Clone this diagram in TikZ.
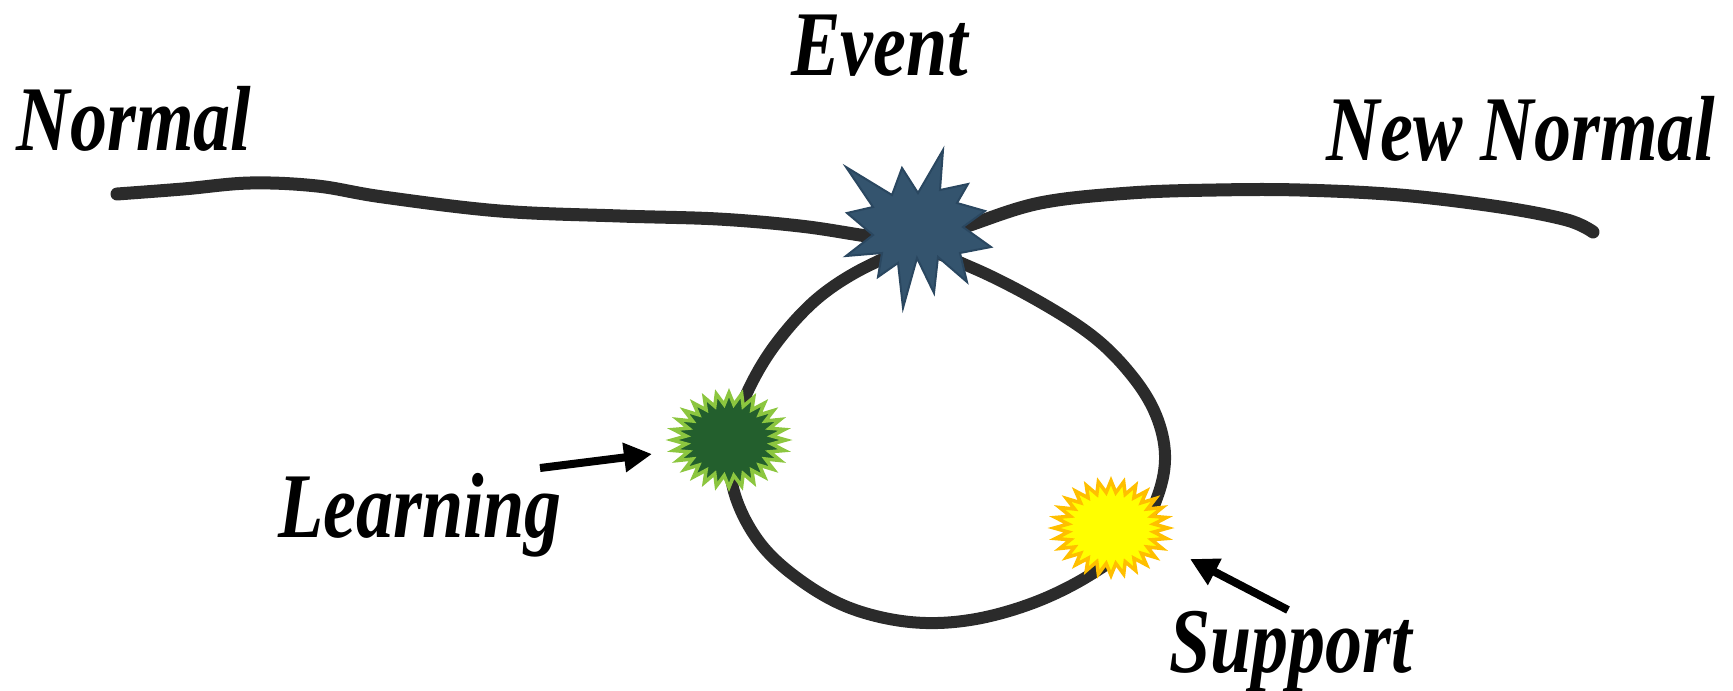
\documentclass[tikz,border=0pt]{standalone}
\usepackage{fontspec}
\setmainfont{Liberation Serif}
\usetikzlibrary{arrows.meta}
\definecolor{inkline}{HTML}{2B2B2B}
\definecolor{eventfill}{HTML}{34546E}
\definecolor{eventedge}{HTML}{2A4760}
\definecolor{learnfill}{HTML}{235F2D}
\definecolor{learnedge}{HTML}{8CC63F}
\definecolor{supfill}{HTML}{FFFF00}
\definecolor{supedge}{HTML}{FFBF00}
\newcommand\myburst[8]{% style, cx, cy, n, 2n-1, rout, rin, yratio
  \filldraw[#1] ({#2+#6},{#3}) \foreach \k in {1,...,#5} {
    -- ({#2+((#6+#7)/2+(#6-#7)/2*cos(\k*180))*cos(\k*180/#4)},
        {#3+#8*((#6+#7)/2+(#6-#7)/2*cos(\k*180))*sin(\k*180/#4)}) } -- cycle;}
\tikzset{
  brush/.style={line width=13pt, color=inkline, line cap=round, line join=round},
  pointer/.style={line width=8pt, -{Triangle[length=28pt,width=28pt]}},
  script/.style={font=\fontsize{74}{80}\selectfont\bfseries\itshape, inner sep=0pt, anchor=base},
}
\begin{document}
\begin{tikzpicture}[x=1pt,y=-1pt]
\path[use as bounding box] (0,0) rectangle (1733,691);
% texts
\node[script] (normal) at (134,150) {\scalebox{1}[1.25]{Normal}};
\node[script] (event) at (880,75) {\scalebox{1}[1.25]{Event}};
\node[script] (newnormal) at (1521,160) {\scalebox{1}[1.25]{New Normal}};
\node[script] (learning) at (420,537) {\scalebox{1}[1.25]{Learning}};
\node[script] (support) at (1291,672) {\scalebox{1}[1.25]{Support}};
% main line
\draw[brush] plot[smooth, tension=0.6] coordinates {(117,194) (183,189) (250,183) (317,186) (383,197) (500,211) (620,216) (718,219) (800,226) (860,235) (905,242)};
\draw[brush] plot[smooth, tension=0.6] coordinates {(925,240) (967,226) (1040,203) (1130,193) (1216,190) (1300,190) (1400,195) (1500,207) (1567,220) (1593,232)};
% loop
\draw[brush, line width=12pt] plot[smooth cycle, tension=0.6] coordinates {(918,250) (870,265) (818,298) (775,345) (746,395) (730,445) (735,495) (760,543) (800,580) (850,608) (910,622) (970,620) (1033,603) (1090,575) (1135,540) (1158,495) (1165,455) (1156,415) (1133,377) (1095,338) (1040,302) (973,268)};
% bursts
\filldraw[fill=eventfill, draw=eventedge, line width=2pt, line join=miter]
  (846,167) -- (892,195) -- (902,168) -- (918,193) -- (943,150) -- (940,190)
  -- (968,184) -- (957,203) -- (985,211) -- (963,227) -- (991,247) -- (960,253)
  -- (967,282) -- (938,257) -- (934,293) -- (917,258) -- (903,308) -- (898,263)
  -- (878,277) -- (882,253) -- (846,256) -- (873,235) -- (847,213) -- (873,207) -- cycle;
\coordinate (eventstar) at (918,228);
\myburst{fill=learnfill, draw=learnedge, line width=3.5pt, line join=miter}{729}{440}{28}{55}{57}{43}{0.83}
\coordinate (learnstar) at (729,440);
\myburst{fill=supfill, draw=supedge, line width=3.5pt, line join=miter}{1111}{528}{28}{55}{57}{43}{0.83}
\coordinate (supstar) at (1111,528);
% arrows
\coordinate (ltail) at (540,468);
\coordinate (ltip) at (652,454);
\coordinate (stail) at (1288,610);
\coordinate (stip) at (1190,559);
\draw[pointer] (ltail) -- (ltip);
\draw[pointer] (stail) -- (stip);
\end{tikzpicture}
\end{document}
